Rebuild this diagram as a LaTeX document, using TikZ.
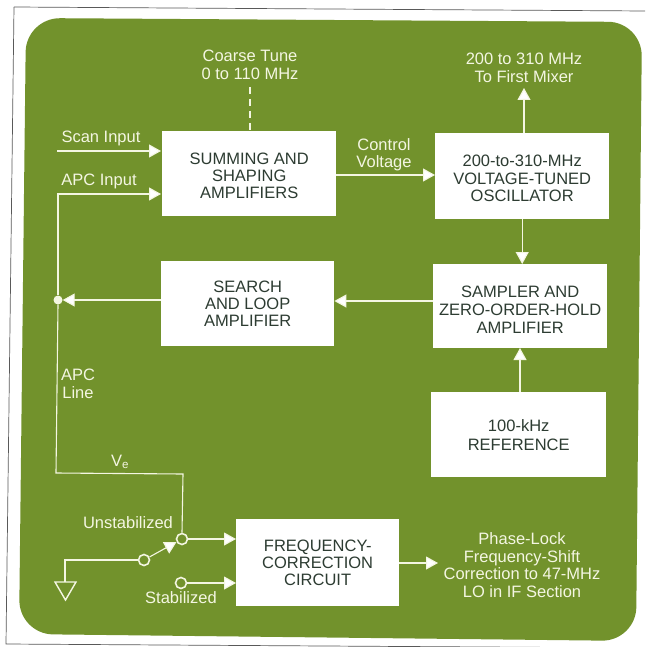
\documentclass[tikz,border=0pt]{standalone}
\usepackage{fontspec}
\setmainfont{Liberation Sans}
\usetikzlibrary{arrows.meta}
\definecolor{panel}{RGB}{114,146,44}
\definecolor{ink}{RGB}{45,60,50}
\definecolor{pale}{RGB}{244,246,226}
\newcommand{\dn}[1]{\rule{0pt}{#1pt}}
\tikzset{
  x=1pt,y=-1pt,
  blockbox/.style={fill=white,draw=none,inner sep=0pt,align=center,text=ink,font=\fontsize{16.5}{17.2}\selectfont,anchor=north west},
  wire/.style={draw=pale,line width=1.1pt},
  arrowwire/.style={wire,-{Triangle[length=12pt,width=13pt,fill=white]}},
  lbl/.style={text=pale,align=center,font=\fontsize{16.5}{17.4}\selectfont,inner sep=0pt},
  contact/.style={circle,draw=pale,line width=1.6pt,fill=panel,minimum size=11pt,inner sep=0pt},
  junction/.style={circle,fill=pale,minimum size=9pt,inner sep=0pt},
}
\begin{document}
\begin{tikzpicture}
\useasboundingbox (0,0) rectangle (645,647);
\fill[white] (0,0) rectangle (645,647);
\draw[gray!70!black,line width=0.7pt] (14,7) -- (645,11);
\draw[gray!70!black,line width=0.7pt] (14,7) -- (6,644) -- (645,648);
\fill[panel,rounded corners=34pt] (26,18) -- (642,22) -- (636,641) -- (19,634) -- cycle;

\node[blockbox,minimum width=174pt,minimum height=85pt] (sum) at (162,131) {\dn{16}SUMMING AND\\SHAPING\\AMPLIFIERS};
\node[blockbox,minimum width=174pt,minimum height=86pt] (vco) at (435,133) {\dn{16}200-to-310-MHz\\VOLTAGE-TUNED\\OSCILLATOR};
\node[blockbox,minimum width=173pt,minimum height=85pt] (search) at (161,261) {SEARCH\\AND LOOP\\AMPLIFIER};
\node[blockbox,minimum width=174pt,minimum height=84pt] (samp) at (433,264) {\dn{18}SAMPLER AND\\[1pt]ZERO-ORDER-HOLD\\[1pt]AMPLIFIER};
\node[blockbox,minimum width=175pt,minimum height=85pt] (ref) at (431,392) {100-kHz\\[2pt]REFERENCE};
\node[blockbox,minimum width=163pt,minimum height=87pt] (fcc) at (236,519) {FREQUENCY-\\CORRECTION\\CIRCUIT};

\node[lbl] (coarse) at (250,65) {Coarse Tune\\0 to 110 MHz};
\node[lbl] (mixer) at (524,68) {200 to 310 MHz\\To First Mixer};
\node[lbl] (scan) at (101,138) {Scan Input};
\node[lbl] (apc) at (99,181) {APC Input};
\node[lbl] (ctl) at (384,155) {Control\\Voltage};
\node[lbl] (line) at (78,384) {APC\\Line};
\node[lbl] (ve) at (120,462) {V\textsubscript{e}};
\node[lbl] (unst) at (128,523) {Unstabilized};
\node[lbl] (stab) at (181,598) {Stabilized};
\node[lbl] (phase) at (522,565) {Phase-Lock\\Frequency-Shift\\Correction to 47-MHz\\LO in IF Section};

\coordinate (scanin) at (57,151);
\coordinate (scanend) at (161,151);
\coordinate (apcend) at (161,194);
\coordinate (apccorner) at (58,194);
\coordinate (jn) at (58,300);
\coordinate (lowcorner) at (56,473);
\coordinate (vecorner) at (183,474);
\coordinate (coarseend) at (250,87);
\coordinate (gndtop) at (65,560);
\coordinate (gndbase) at (65,582);
\coordinate (outend) at (438,563);
\coordinate (vcoout) at (524,88);

\node[junction] (dot) at (jn) {};
\node[contact] (cu) at (182,539) {};
\node[contact] (cs) at (181,583) {};
\node[contact] (cp) at (144,560) {};

% ground symbol
\draw[pale,line width=1.4pt,line join=miter] (55,582) -- (76,582) -- (65.5,600) -- cycle;

\draw[arrowwire] (scanin) -- (scanend);
\draw[wire,dash pattern=on 7pt off 5pt] (coarseend) -- (coarseend |- sum.north);
\draw[arrowwire] (dot.north) -- (apccorner) -- (apcend);
\draw[wire] (dot.south) -- (lowcorner) -- (vecorner) -- (cu.north);
\draw[arrowwire] (sum.east |- 0,175) -- (vco.west |- 0,175);
\draw[arrowwire] (vcoout |- vco.north) -- (vcoout);
\draw[arrowwire] (vco.south) -- (samp.north -| vco.south);
\draw[arrowwire] (520,392) -- (520,348);
\draw[arrowwire] (samp.west |- 0,301) -- (search.east |- 0,301);
\draw[arrowwire] (search.west |- dot.east) -- (dot.east);
\draw[arrowwire] (cu.east) -- (fcc.west |- cu.east);
\draw[arrowwire] (cs.east) -- (fcc.west |- cs.east);
\draw[arrowwire] (cp) -- (cu);
\draw[wire] (cp.west) -- (gndtop) -- (gndbase);
\draw[arrowwire] (fcc.east |- outend) -- (outend);
\end{tikzpicture}
\end{document}
